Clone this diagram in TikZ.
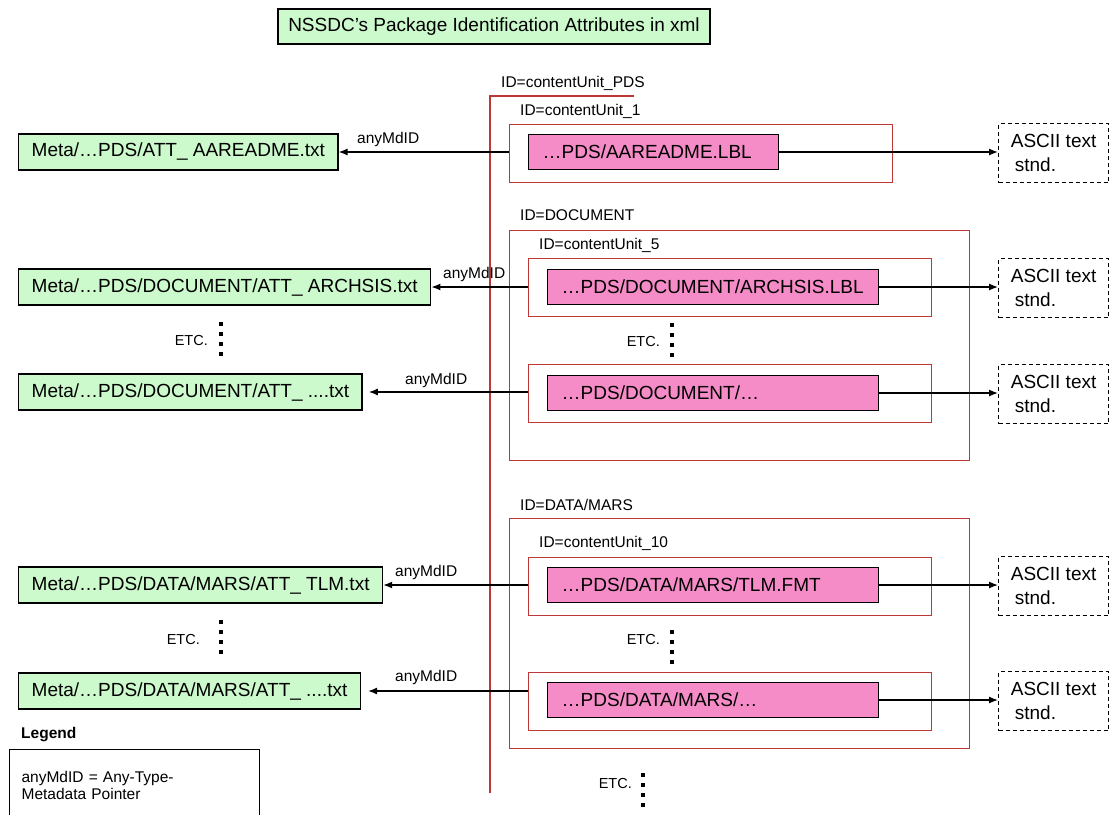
\documentclass[tikz,border=0pt]{standalone}
\usepackage{fontspec}
\setmainfont{Liberation Sans}
\usetikzlibrary{arrows.meta,calc}
\definecolor{gfill}{RGB}{204,250,204}
\definecolor{pfill}{RGB}{245,140,200}
\definecolor{fred}{RGB}{190,55,55}
\begin{document}
\begin{tikzpicture}[x=1pt,y=-1pt,
  big/.style={font=\fontsize{19}{24}\selectfont},
  small/.style={font=\fontsize{15.5}{16.5}\selectfont},
  greenbox/.style={draw=black, line width=1.4pt, fill=gfill, big, minimum height=36pt, inner xsep=13pt, inner ysep=0pt, anchor=west},
  pinkbox/.style={draw=black, line width=1.4pt, fill=pfill, big, minimum height=35pt, inner xsep=14pt, inner ysep=0pt, anchor=west, align=left},
  frame/.style={draw=fred, line width=1.3pt, anchor=north west, inner sep=0pt},
  asciibox/.style={draw=black, line width=1.2pt, dash pattern=on 4pt off 3pt, minimum width=110pt, minimum height=59pt, anchor=west, align=left, big},
  arr/.style={line width=1.3pt, -{Latex[length=9pt,width=7pt]}},
  lbl/.style={small, anchor=west, inner sep=0pt},
  etc/.style={font=\fontsize{14.5}{16}\selectfont, anchor=east, inner sep=0pt},
  etcdots/.style={line width=3.5pt, dash pattern=on 3.5pt off 6.5pt},
  legendbox/.style={draw=black, line width=1.2pt, anchor=north west, minimum width=250pt, minimum height=72pt, text width=226pt, inner xsep=12pt, align=left, small}
]
\useasboundingbox (0,0) rectangle (1113,814);
\clip (0,0) rectangle (1113,814);
\fill[white] (0,0) rectangle (1113,814);

% title
\node[draw=black, line width=1.4pt, fill=gfill, big, minimum width=432pt, minimum height=35pt, inner sep=0pt] (title) at (494,26.5) {NSSDC's Package Identification Attributes in xml};

% PDS frame
\draw[fred, line width=1.3pt] (634,96) -- (490,96) -- (490,793);
\node[lbl] (lpds) at (501,83) {ID=contentUnit\_PDS};

% frames
\node[frame, minimum width=383pt, minimum height=58pt] (cu1) at (509,124) {};
\node[lbl] (lcu1) at (520,111) {ID=contentUnit\_1};

\node[frame, minimum width=460pt, minimum height=230pt] (doc) at (509,230) {};
\node[lbl] (ldoc) at (520,215) {ID=DOCUMENT};
\node[frame, minimum width=403pt, minimum height=58pt] (cu5) at (528,258) {};
\node[lbl] (lcu5) at (539,245) {ID=contentUnit\_5};
\node[frame, minimum width=403pt, minimum height=58pt] (cu6) at (528,364) {};

\node[frame, minimum width=460pt, minimum height=230pt] (data) at (509,518) {};
\node[lbl] (ldata) at (520,505) {ID=DATA/MARS};
\node[frame, minimum width=403pt, minimum height=58pt] (cu10) at (528,557) {};
\node[lbl] (lcu10) at (539,543) {ID=contentUnit\_10};
\node[frame, minimum width=403pt, minimum height=58pt] (cu11) at (528,672) {};

% pink boxes
\node[pinkbox, text width=222pt] (p1) at (528,152) {…PDS/AAREADME.LBL};
\node[pinkbox, text width=303pt] (p5) at (547,287) {…PDS/DOCUMENT/ARCHSIS.LBL};
\node[pinkbox, text width=303pt] (p6) at (547,393) {…PDS/DOCUMENT/…};
\node[pinkbox, text width=303pt] (p10) at (547,585) {…PDS/DATA/MARS/TLM.FMT};
\node[pinkbox, text width=303pt] (p11) at (547,700) {…PDS/DATA/MARS/…};

% ASCII boxes
\node[asciibox] (a1) at (998,153) {ASCII text\\\hspace*{4pt}stnd.};
\node[asciibox] (a5) at (998,288) {ASCII text\\\hspace*{4pt}stnd.};
\node[asciibox] (a6) at (998,394) {ASCII text\\\hspace*{4pt}stnd.};
\node[asciibox] (a10) at (998,586) {ASCII text\\\hspace*{4pt}stnd.};
\node[asciibox] (a11) at (998,701) {ASCII text\\\hspace*{4pt}stnd.};

% green boxes
\node[greenbox] (g1) at (18,152) {Meta/…PDS/ATT\_ AAREADME.txt};
\node[greenbox] (g2) at (18,287) {Meta/…PDS/DOCUMENT/ATT\_ ARCHSIS.txt};
\node[greenbox] (g3) at (18,392) {Meta/…PDS/DOCUMENT/ATT\_ ....txt};
\node[greenbox] (g4) at (18,585) {Meta/…PDS/DATA/MARS/ATT\_ TLM.txt};
\node[greenbox] (g5) at (18,691) {Meta/…PDS/DATA/MARS/ATT\_ ....txt};

% left arrows
\draw[arr] (cu1.west |- g1.east) -- (g1.east);
\draw[arr] (cu5.west |- g2.east) -- (g2.east);
\draw[arr, shorten >=6pt] (cu6.west |- g3.east) -- (g3.east);
\draw[arr] (cu10.west |- g4.east) -- (g4.east);
\draw[arr, shorten >=7pt] (cu11.west |- g5.east) -- (g5.east);

% right arrows
\draw[arr] (p1.east) -- (a1.west |- p1.east);
\draw[arr] (p5.east) -- (a5.west |- p5.east);
\draw[arr] (p6.east) -- (a6.west |- p6.east);
\draw[arr] (p10.east) -- (a10.west |- p10.east);
\draw[arr] (p11.east) -- (a11.west |- p11.east);

% anyMdID labels
\node[lbl] (m1) at (357,139) {anyMdID};
\node[lbl] (m2) at (443,274) {anyMdID};
\node[lbl] (m3) at (405,380) {anyMdID};
\node[lbl] (m4) at (395,572) {anyMdID};
\node[lbl] (m5) at (395,677) {anyMdID};

% ETC.
\node[etc] (e1) at (208,341) {ETC.};
\draw[etcdots] (221,322) -- (221,356);
\node[etc] (e2) at (660,342) {ETC.};
\draw[etcdots] (672,323) -- (672,357);
\node[etc] (e3) at (200,639) {ETC.};
\draw[etcdots] (221,620) -- (221,654);
\node[etc] (e4) at (660,639) {ETC.};
\draw[etcdots] (672,630) -- (672,664);
\node[etc] (e5) at (632,783) {ETC.};
\draw[etcdots] (643,773) -- (643,807);

% legend
\node[font=\fontsize{15.5}{17}\selectfont\bfseries, anchor=west, inner sep=0pt] (legt) at (21,735) {Legend};
\node[legendbox] (leg) at (9,749) {anyMdID = Any-Type-\\Metadata Pointer};
\end{tikzpicture}
\end{document}
